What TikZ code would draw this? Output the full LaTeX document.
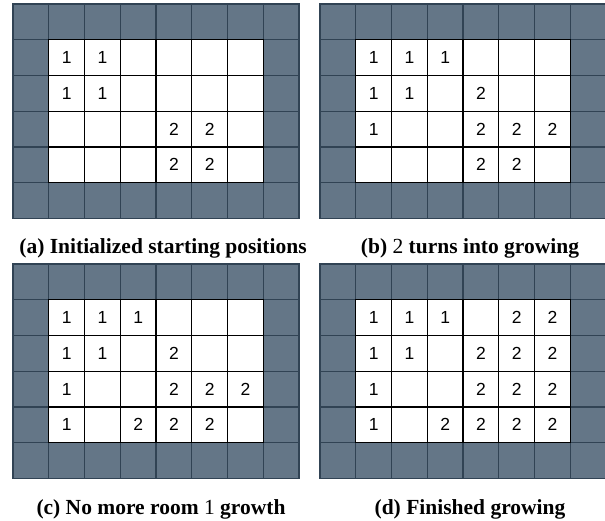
\documentclass[tikz,border=0pt]{standalone}
\usepackage{fontspec}
\setmainfont{Liberation Serif}
\setsansfont{Liberation Sans}
\usetikzlibrary{positioning}
\definecolor{wallfill}{HTML}{647687}
\definecolor{walledge}{HTML}{314354}

\tikzset{
    wallcell/.style={draw=walledge, fill=wallfill, line width=1.3pt, minimum size=35.75pt, inner sep=0pt},
    floorcell/.style={draw=black, fill=white, line width=1.3pt, minimum size=35.75pt, inner sep=0pt,
                      font=\sffamily\fontsize{17.5}{17.5}\selectfont},
    subcaption/.style={anchor=base, font=\bfseries\fontsize{21.5}{23}\selectfont}
}

% #1 name, #2/#3 top left corner, #4 rows of the floor (0 = empty)
\newcommand{\tilegrid}[4]{
    \foreach \c in {0,...,7}
        \foreach \r in {0,...,5}
            \node[wallcell] (#1-w-\c-\r) at ({#2+(\c+0.5)*35.75}, {#3+(\r+0.5)*35.75}) {};
    \foreach \rowvals [count=\r] in {#4}
        \foreach \v [count=\c] in \rowvals
            \node[floorcell] (#1-\c-\r) at ({#2+(\c+0.5)*35.75}, {#3+(\r+0.5)*35.75})
                {\ifnum\v>0 \v\fi};
}

\begin{document}
\begin{tikzpicture}[x=1pt, y=-1pt]
    \useasboundingbox (0,0) rectangle (605,521);

    \tilegrid{ga}{13}{4}{{1,1,0,0,0,0},{1,1,0,0,0,0},{0,0,0,2,2,0},{0,0,0,2,2,0}}
    \tilegrid{gb}{320}{4}{{1,1,1,0,0,0},{1,1,0,2,0,0},{1,0,0,2,2,2},{0,0,0,2,2,0}}
    \tilegrid{gc}{13}{264}{{1,1,1,0,0,0},{1,1,0,2,0,0},{1,0,0,2,2,2},{1,0,2,2,2,0}}
    \tilegrid{gd}{320}{264}{{1,1,1,0,2,2},{1,1,0,2,2,2},{1,0,0,2,2,2},{1,0,2,2,2,2}}

    \node[subcaption] (cap-a) at (163,254) {(a) Initialized starting positions};
    \node[subcaption] (cap-b) at (470,254) {(b) \textmd{2} turns into growing};
    \node[subcaption] (cap-c) at (161,514) {(c) No more room \textmd{1} growth};
    \node[subcaption] (cap-d) at (470,514) {(d) Finished growing};
\end{tikzpicture}
\end{document}
